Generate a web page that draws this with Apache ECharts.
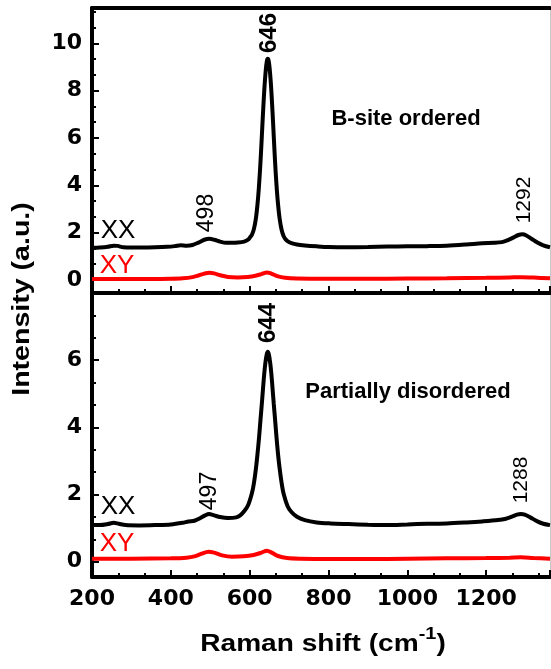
<!DOCTYPE html>
<html>
<head>
<meta charset="utf-8">
<script src="https://cdn.jsdelivr.net/npm/echarts@6/dist/echarts.min.js"></script>
<style>
html,body{margin:0;padding:0;background:#fff;}
#chart{width:551px;height:669px;}
</style>
</head>
<body>
<div id="chart"></div>
<script>
// ---------- data ----------
const xxTopX = [200,220,240,255,265,280,300,330,360,390,410,425,440,455,470,485,498,510,525,540,555,570,586,596,601,606,611,616,620,623,626,629,632,634,636,638,640,642,644,646,648,650,652,654,656,658,660,663,666,669,672,676,681,686,691,696,706,720,740,770,800,850,900,950,1000,1050,1100,1150,1190,1220,1240,1255,1270,1282,1292,1302,1315,1330,1345,1362];
const xxTopY = [1.36,1.37,1.40,1.45,1.44,1.38,1.37,1.37,1.38,1.40,1.43,1.47,1.45,1.48,1.58,1.70,1.74,1.70,1.62,1.57,1.57,1.58,1.62,1.70,1.80,1.92,2.17,2.62,3.22,3.82,4.57,5.45,6.45,7.10,7.70,8.25,8.70,9.05,9.28,9.35,9.28,9.05,8.70,8.25,7.70,7.10,6.45,5.45,4.55,3.80,3.20,2.60,2.12,1.86,1.72,1.64,1.56,1.50,1.46,1.42,1.39,1.38,1.39,1.41,1.42,1.43,1.45,1.50,1.55,1.57,1.60,1.68,1.80,1.90,1.93,1.88,1.74,1.58,1.46,1.38];
const xyTopX = [200,250,300,350,400,430,455,470,485,498,510,525,545,570,595,615,630,644,655,670,690,720,800,900,1000,1100,1200,1260,1290,1320,1362];
const xyTopY = [0.04,0.04,0.04,0.04,0.05,0.07,0.12,0.19,0.27,0.31,0.28,0.20,0.13,0.11,0.13,0.18,0.25,0.32,0.27,0.16,0.09,0.06,0.05,0.05,0.06,0.07,0.09,0.11,0.12,0.10,0.07];
const xxBotX = [200,220,240,255,268,285,320,360,400,430,445,460,475,487,497,510,525,545,566,576,586,596,606,611,616,620,624,628,631,634,637,640,643,646,649,652,655,658,661,664,668,672,676,681,686,696,706,720,740,770,805,850,900,950,1000,1050,1100,1150,1190,1230,1250,1265,1278,1288,1298,1312,1330,1345,1362];
const xxBotY = [1.09,1.09,1.12,1.16,1.13,1.09,1.08,1.09,1.11,1.16,1.20,1.22,1.30,1.38,1.42,1.38,1.33,1.30,1.32,1.38,1.50,1.68,2.05,2.35,2.78,3.22,3.72,4.30,4.72,5.17,5.60,5.93,6.16,6.25,6.16,5.93,5.60,5.17,4.72,4.30,3.72,3.20,2.78,2.35,2.03,1.66,1.48,1.34,1.24,1.17,1.14,1.12,1.10,1.09,1.11,1.13,1.14,1.17,1.20,1.24,1.28,1.34,1.40,1.42,1.40,1.32,1.20,1.13,1.09];
const xyBotX = [200,300,400,440,460,478,495,510,530,555,585,610,630,644,656,672,695,730,800,900,1000,1100,1200,1260,1288,1320,1362];
const xyBotY = [0.09,0.09,0.10,0.12,0.16,0.24,0.30,0.27,0.19,0.15,0.16,0.20,0.27,0.33,0.27,0.17,0.11,0.09,0.08,0.08,0.09,0.10,0.11,0.12,0.13,0.11,0.09];

const xMin = 200, xMax = 1362, xStep = 200;
const topYLabels = [0,2,4,6,8,10];
const topYMinor = [0.667,1.333,2.667,3.333,4.667,5.333,6.667,7.333,8.667,9.333,10.667,11.333];
const botYLabels = [0,2,4,6];
const botYMinor = [0.667,1.333,2.667,3.333,4.667,5.333,6.667,7.333];

// ---------- chart ----------
const zip = (xs, ys) => xs.map((x, i) => [x, ys[i]]);
const chart = echarts.init(document.getElementById('chart'), null, {renderer: 'canvas'});
const F = '"Liberation Sans", Arial, sans-serif';
const TF = '"DejaVu Sans", sans-serif';
const black = '#000', red = '#ff0000';

const gridL = 92, gridW = 458;
const grids = [
  {left: gridL, top: 8, width: gridW, height: 285, outerBoundsMode: 'none', containLabel: false},
  {left: gridL, top: 293, width: gridW, height: 284, outerBoundsMode: 'none', containLabel: false}
];
const tickLabel = {color: black, fontSize: 22, fontWeight: 'bold', fontFamily: TF, formatter: v => String(v)};

function xAx(grid, opts) {
  return Object.assign({
    gridIndex: grid, type: 'value', min: xMin, max: xMax, interval: xStep,
    axisLine: {show: true, onZero: false, lineStyle: {color: black, width: 4}},
    axisTick: {show: true, inside: true, length: 7, lineStyle: {color: black, width: 2}},
    minorTick: {show: true, splitNumber: 3, length: 4, lineStyle: {color: black, width: 2}},
    axisLabel: {show: false},
    splitLine: {show: false}, minorSplitLine: {show: false}
  }, opts);
}
function yAx(grid, min, max, labels) {
  return {
    gridIndex: grid, type: 'value', min: min, max: max, position: 'left',
    axisLine: {show: true, onZero: false, lineStyle: {color: black, width: 4}},
    axisTick: {show: true, inside: true, length: 7, customValues: labels, lineStyle: {color: black, width: 2}},
    axisLabel: Object.assign({show: true, customValues: labels, margin: 10}, tickLabel),
    splitLine: {show: false}
  };
}
function yMinor(grid, min, max, vals) {
  return {
    gridIndex: grid, type: 'value', min: min, max: max, position: 'left',
    axisLine: {show: false},
    axisTick: {show: true, inside: true, length: 4, customValues: vals, lineStyle: {color: black, width: 2}},
    axisLabel: {show: false}, splitLine: {show: false}
  };
}
function yRight(grid, min, max) {
  return {
    gridIndex: grid, type: 'value', min: min, max: max, position: 'right',
    axisLine: {show: true, onZero: false, lineStyle: {color: '#c8c8c8', width: 1}},
    axisTick: {show: false}, axisLabel: {show: false}, splitLine: {show: false}
  };
}

const topMin = -0.55, topMax = 11.49, botMin = -0.455, botMax = 8.0;

const lineS = (xi, yi, xs, ys, c) => ({
  type: 'line', xAxisIndex: xi, yAxisIndex: yi, data: zip(xs, ys), showSymbol: false, smooth: 0.3,
  lineStyle: {color: c, width: 4}, itemStyle: {color: c}
});
const txt = (x, y, text, font, fill, rot, sx) => ({
  type: 'text', x: x, y: y, rotation: rot || 0, scaleX: sx || 1,
  style: {text: text, font: font, fill: fill, align: 'center', verticalAlign: 'middle'}
});

const option = {
  animation: false,
  backgroundColor: '#fff',
  grid: grids,
  xAxis: [
    xAx(0, {position: 'bottom'}),
    xAx(0, {position: 'top', axisTick: {show: false}, minorTick: {show: false}}),
    xAx(1, {position: 'bottom', axisLabel: Object.assign({show: true, margin: 11, showMaxLabel: false}, tickLabel)})
  ],
  yAxis: [
    yAx(0, topMin, topMax, topYLabels),
    yMinor(0, topMin, topMax, topYMinor),
    yAx(1, botMin, botMax, botYLabels),
    yMinor(1, botMin, botMax, botYMinor),
    yRight(0, topMin, topMax),
    yRight(1, botMin, botMax)
  ],
  series: [
    lineS(0, 0, xyTopX, xyTopY, red),
    lineS(0, 0, xxTopX, xxTopY, black),
    lineS(2, 2, xyBotX, xyBotY, red),
    lineS(2, 2, xxBotX, xxBotY, black)
  ],
  graphic: [
    txt(22, 299, 'Intensity (a.u.)', 'bold 24px ' + F, black, Math.PI / 2, 1.19),
    {type: 'text', x: 323, y: 644, scaleX: 1.17, style: {text: 'Raman shift (cm{sup|-1})', font: 'bold 24px ' + F, fill: black, align: 'center', verticalAlign: 'middle', lineHeight: 36,
      rich: {sup: {fontSize: 17, lineHeight: 17, fontWeight: 'bold', fontFamily: F, verticalAlign: 'top', fill: black}}}},
    // polarisation tags
    txt(118, 231, 'XX', '26px ' + F, black),
    txt(117, 266, 'XY', '26px ' + F, red),
    txt(118, 507, 'XX', '26px ' + F, black),
    txt(117, 544, 'XY', '26px ' + F, red),
    // sample labels
    txt(406, 119, 'B-site ordered', 'bold 22px ' + F, black),
    txt(408, 392, 'Partially disordered', 'bold 22px ' + F, black),
    // peak labels
    txt(269, 33, '646', 'bold 24px ' + F, black, Math.PI / 2),
    txt(207, 213, '498', '23px ' + F, black, Math.PI / 2),
    txt(524, 200, '1292', '21px ' + F, black, Math.PI / 2),
    txt(268, 323, '644', 'bold 24px ' + F, black, Math.PI / 2),
    txt(210, 491, '497', '23px ' + F, black, Math.PI / 2),
    txt(521, 480, '1288', '21px ' + F, black, Math.PI / 2)
  ]
};
chart.setOption(option);
</script>
</body>
</html>
